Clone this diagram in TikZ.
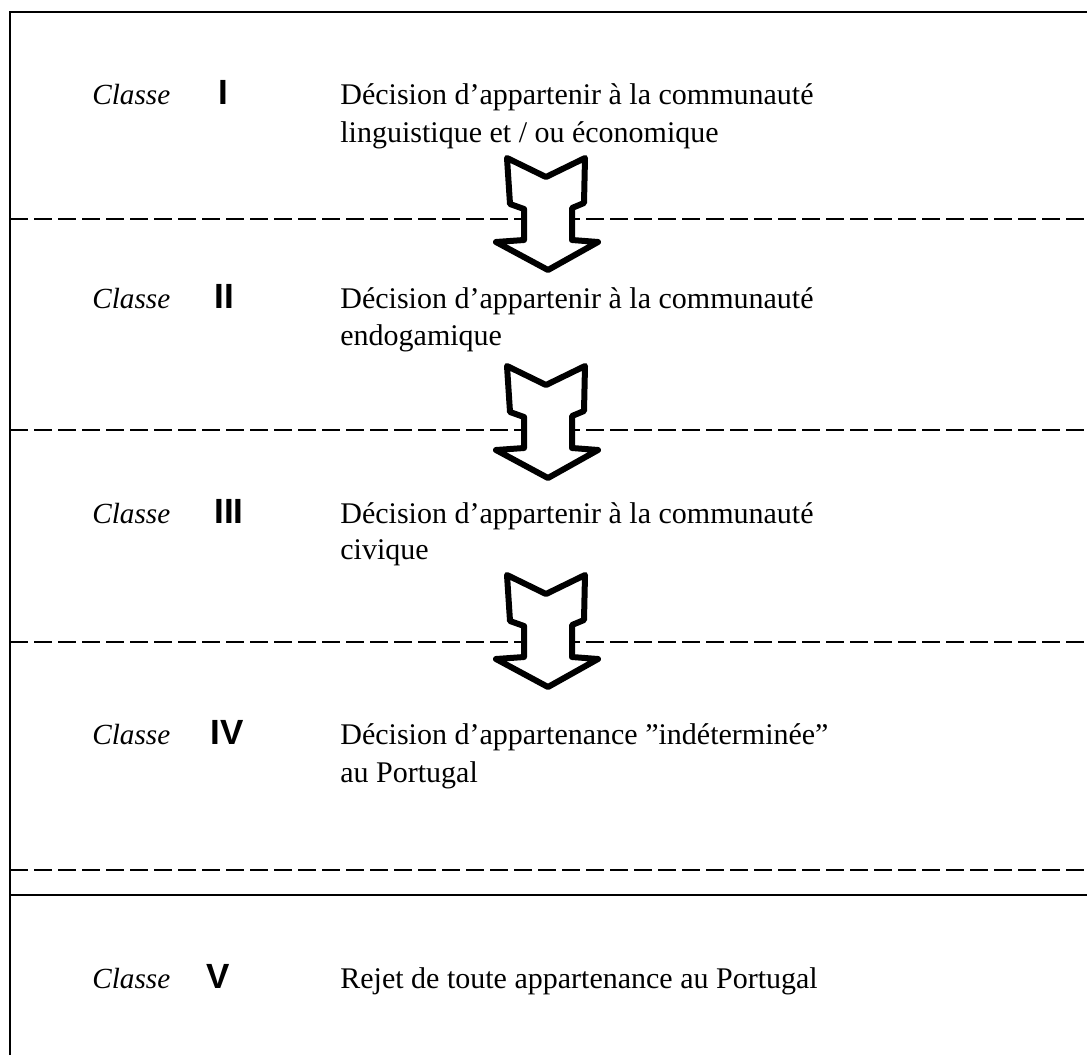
\documentclass[tikz,border=0pt]{standalone}
\usepackage{fontspec}
\setmainfont{Liberation Serif}
\newfontfamily\numfont{Liberation Sans}
\begin{document}
\begin{tikzpicture}[
      x=0.5pt, y=-0.5pt,
      frame/.style={line width=1.3pt},
      sep/.style={line width=1pt, dash pattern=on 9pt off 3pt},
      cls/.style={anchor=base west, inner sep=0pt, font=\fontsize{14.6}{18}\selectfont\itshape},
      num/.style={anchor=base west, inner sep=0pt, font=\fontsize{17.5}{18}\selectfont\numfont\bfseries},
      txt/.style={anchor=base west, inner sep=0pt, font=\fontsize{15}{18}\selectfont},
      bigarrow/.style={line width=3pt, line join=round, fill=white}
      ]
      \useasboundingbox (0,0) rectangle (1087,1055);
      % frame and separators
      \draw[frame] (10,1055) -- (10,12) -- (1087,12);
      \draw[sep] (10,219) -- (1087,219);
      \draw[sep] (10,430) -- (1087,430);
      \draw[sep] (10,642) -- (1087,642);
      \draw[sep] (10,870) -- (1087,870);
      \draw[frame] (10,895) -- (1087,895);
      % classes
      \node[cls] (cl1) at (92,104) {Classe};
      \node[num] (n1) at (218,104) {I};
      \node[txt] (d1) at (340,104) {Décision d'appartenir à la communauté};
      \node[txt] (d1b) at (340,142) {linguistique et / ou économique};
      \node[cls] (cl2) at (92,308) {Classe};
      \node[num] (n2) at (214,308) {II};
      \node[txt] (d2) at (340,308) {Décision d'appartenir à la communauté};
      \node[txt] (d2b) at (340,345) {endogamique};
      \node[cls] (cl3) at (92,523) {Classe};
      \node[num] (n3) at (214,523) {III};
      \node[txt] (d3) at (340,523) {Décision d'appartenir à la communauté};
      \node[txt] (d3b) at (340,559) {civique};
      \node[cls] (cl4) at (92,744) {Classe};
      \node[num] (n4) at (210,744) {IV};
      \node[txt] (d4) at (340,744) {Décision d'appartenance ”indéterminée”};
      \node[txt] (d4b) at (340,782) {au Portugal};
      \node[cls] (cl5) at (92,988) {Classe};
      \node[num] (n5) at (206,988) {V};
      \node[txt] (d5) at (340,988) {Rejet de toute appartenance au Portugal};
      % arrows between classes
      \foreach \y in {158,366,575}
        \draw[bigarrow, shift={(546,\y)}] (-39,0) -- (-36,46) -- (-22,51) -- (-22,82)
          -- (-50,84) -- (2,112) -- (52,84) -- (26,82) -- (26,50) -- (38,45)
          -- (39,0) -- (0,19) -- cycle;
\end{tikzpicture}
\end{document}
